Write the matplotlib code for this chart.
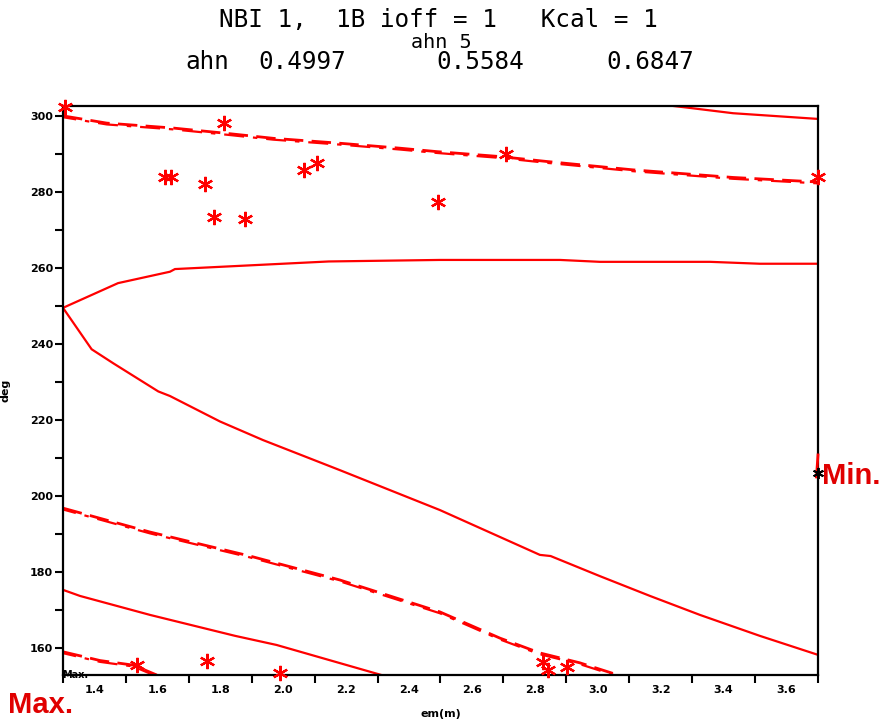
import matplotlib
matplotlib.use('Agg')
import matplotlib.pyplot as plt
import numpy as np

RED = '#ff0000'

# ---- data ----
top_dash_x = [1.3, 1.439, 1.65, 1.82, 1.968, 2.18, 2.371, 2.488, 2.689, 2.838, 3.112, 3.43, 3.7]
top_dash_y = [300.0, 298.1, 296.8, 295.4, 294.1, 292.8, 291.5, 290.6, 289.3, 288.0, 285.8, 283.8, 282.6]

top_solid_x = [3.2, 3.282, 3.43, 3.7]
top_solid_y = [303.0, 302.2, 300.7, 299.2]

upper_solid_x = [1.3, 1.475, 1.64, 1.656, 2.145, 2.498, 2.88, 3.007, 3.357, 3.515, 3.7]
upper_solid_y = [249.5, 256.0, 259.0, 259.7, 261.7, 262.1, 262.1, 261.6, 261.6, 261.1, 261.1]

desc_solid_x = [1.3, 1.391, 1.46, 1.603, 1.64, 1.799, 1.936, 2.18, 2.498, 2.816, 2.85, 3.007, 3.166, 3.325, 3.515, 3.7]
desc_solid_y = [249.5, 238.6, 234.9, 227.5, 226.3, 219.6, 214.7, 206.8, 196.3, 184.5, 184.2, 178.9, 173.7, 168.7, 163.2, 158.2]

mid_dash_x = [1.3, 1.577, 1.894, 2.18, 2.498, 2.689, 2.816, 2.943, 3.064]
mid_dash_y = [196.8, 190.5, 184.2, 177.9, 169.5, 162.6, 158.7, 156.1, 152.9]

low_solid_x = [1.3, 1.354, 1.577, 1.847, 1.979, 2.312]
low_solid_y = [175.3, 173.7, 168.7, 163.2, 160.8, 152.9]

low_dash_x = [1.3, 1.418, 1.523, 1.598]
low_dash_y = [159.0, 156.7, 155.5, 152.9]

star_x = [1.306, 1.813, 1.624, 1.642, 1.751, 1.780, 1.879, 2.066, 2.106, 2.492, 2.708, 3.7,
          1.534, 1.759, 1.99, 2.825, 2.843, 2.901]
star_y = [302.4, 298.1, 284.0, 284.0, 282.0, 273.5, 272.8, 285.8, 287.6, 277.3, 289.9, 284.0,
          155.5, 156.7, 153.3, 156.4, 154.2, 155.1]

min_x = [3.7]
min_y = [206.0]
min_seg_x = [3.7, 3.695]
min_seg_y = [210.8, 205.0]

x_major = [1.3, 1.5, 1.7, 1.9, 2.1, 2.3, 2.5, 2.7, 2.9, 3.1, 3.3, 3.5, 3.7]
x_label_pos = [1.4, 1.6, 1.8, 2.0, 2.2, 2.4, 2.6, 2.8, 3.0, 3.2, 3.4, 3.6]
x_labels = ['1.4', '1.6', '1.8', '2.0', '2.2', '2.4', '2.6', '2.8', '3.0', '3.2', '3.4', '3.6']
y_major = [160, 180, 200, 220, 240, 260, 280, 300]
y_labels = ['160', '180', '200', '220', '240', '260', '280', '300']
y_minor = [170, 190, 210, 230, 250, 270, 290]

fig = plt.figure(figsize=(8.9, 7.25), dpi=100)
ax = fig.add_axes([63/890, 1-675/725, (818-63)/890, (675-106)/725])
ax.set_xlim(1.3, 3.7)
ax.set_ylim(152.9, 302.6)

lw = 1.6
for xs, ys in [(top_solid_x, top_solid_y), (upper_solid_x, upper_solid_y),
               (desc_solid_x, desc_solid_y), (low_solid_x, low_solid_y)]:
    ax.plot(xs, ys, color=RED, lw=lw, solid_joinstyle='miter')

for xs, ys in [(top_dash_x, top_dash_y), (mid_dash_x, mid_dash_y), (low_dash_x, low_dash_y)]:
    ax.plot(xs, ys, color=RED, lw=2.0, linestyle=(0, (7, 3)))
    ax.plot(xs, np.array(ys) - 0.35, color=RED, lw=1.6, linestyle=(3, (9, 4, 2, 4)))

ax.plot(star_x, star_y, linestyle='none', marker=(6, 2, 0), markersize=11,
        markeredgewidth=1.6, color=RED, clip_on=False, zorder=5)
ax.plot(min_seg_x, min_seg_y, color=RED, lw=2, clip_on=False, zorder=5)
ax.plot(min_x, min_y, linestyle='none', marker=(6, 2, 0), markersize=8,
        markeredgewidth=1.4, color='black', clip_on=False, zorder=6)

for s in ax.spines.values():
    s.set_linewidth(1.6)
    s.set_color('black')

ax.set_xticks(x_major)
ax.set_xticklabels([])
ax.set_xticks(x_label_pos, minor=True)
ax.set_xticklabels(x_labels, minor=True)
ax.tick_params(axis='x', which='major', direction='out', length=6, width=1.5)
ax.tick_params(axis='x', which='minor', length=0, pad=7, labelsize=8)
ax.set_yticks(y_major)
ax.set_yticklabels(y_labels)
ax.set_yticks(y_minor, minor=True)
ax.tick_params(axis='y', which='both', direction='out', length=6, width=1.5, pad=1, labelsize=8)
for lab in ax.get_xticklabels(minor=True) + ax.get_yticklabels():
    lab.set_fontweight('bold')

ax.set_xlabel('em(m)', fontsize=8, fontweight='bold', labelpad=10)
ax.set_ylabel('deg', fontsize=8, fontweight='bold', labelpad=14)

# titles
mono = 'DejaVu Sans Mono'
fig.text(438/890, 1-20/725, 'NBI 1,  1B ioff = 1   Kcal = 1', ha='center', va='center',
         fontsize=17.5, family=mono)
fig.text(441/890, 1-42/725, 'ahn 5', ha='center', va='center', fontsize=14.5, family=mono)
fig.text(207/890, 1-62/725, 'ahn', ha='center', va='center', fontsize=17.5, family=mono)
fig.text(302/890, 1-62/725, '0.4997', ha='center', va='center', fontsize=17.5, family=mono)
fig.text(480/890, 1-62/725, '0.5584', ha='center', va='center', fontsize=17.5, family=mono)
fig.text(650/890, 1-62/725, '0.6847', ha='center', va='center', fontsize=17.5, family=mono)

# annotations
fig.text(822/890, 1-476/725, 'Min.', ha='left', va='center', fontsize=21,
         fontweight='bold', color='#e00000', family='Liberation Sans')
fig.text(8/890, 1-705/725, 'Max.', ha='left', va='center', fontsize=21,
         fontweight='bold', color='#e00000', family='Liberation Sans')
fig.text(62/890, 1-675/725, 'Max.', ha='left', va='center', fontsize=7,
         fontweight='bold', color='black')

fig.savefig('out.png', dpi=100)
